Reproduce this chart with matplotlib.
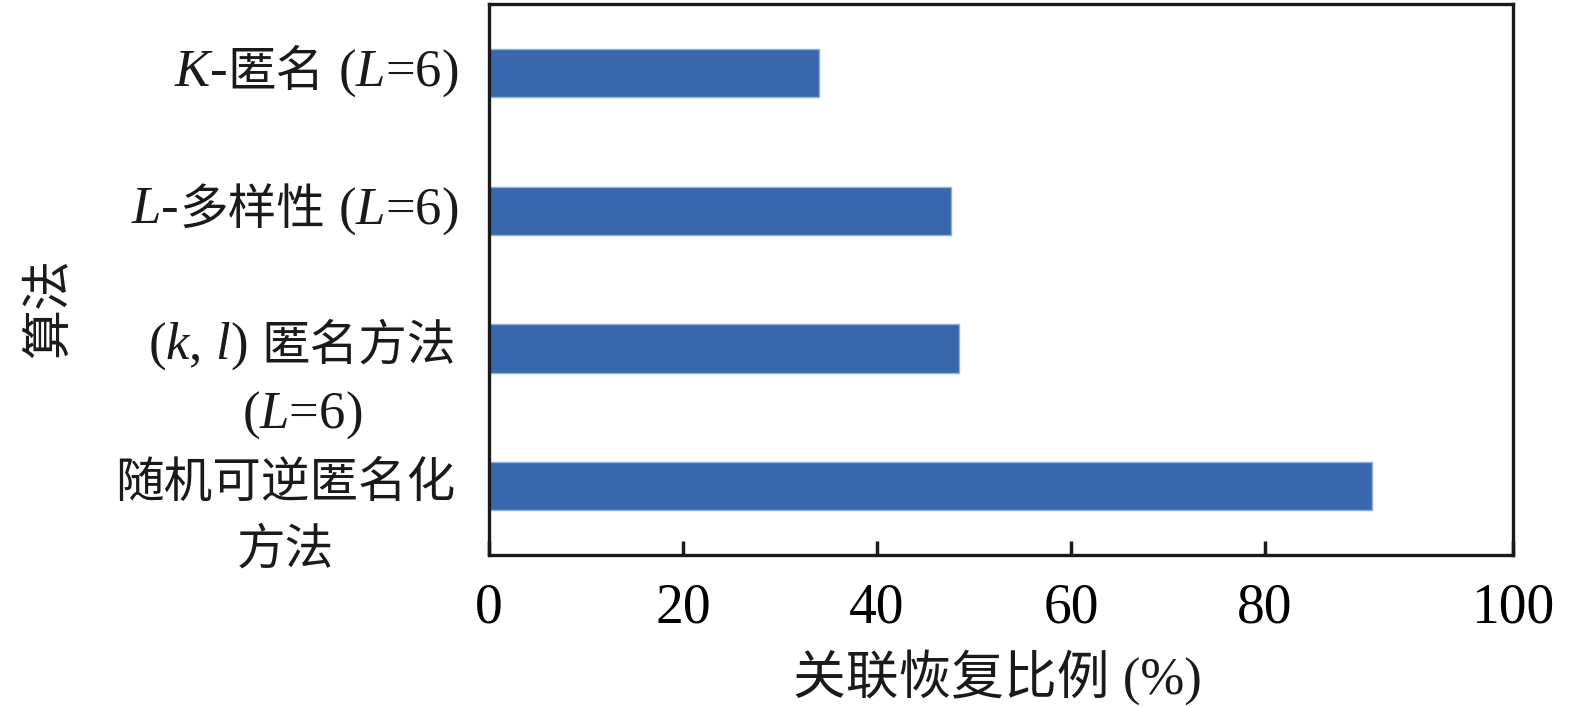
import matplotlib
matplotlib.use("Agg")
import matplotlib.pyplot as plt
from matplotlib.offsetbox import TextArea, HPacker, VPacker, AnnotationBbox, DrawingArea

plt.rcParams['font.family'] = ['Liberation Serif', 'Noto Sans CJK SC']
plt.rcParams['mathtext.fontset'] = 'custom'
plt.rcParams['mathtext.rm'] = 'Liberation Serif'
plt.rcParams['mathtext.it'] = 'Liberation Serif:italic'

# data (top to bottom)
methods = ["K-匿名 (L=6)", "L-多样性 (L=6)", "(k, l) 匿名方法 (L=6)", "随机可逆匿名化方法"]
ratios = [34.0, 47.6, 48.5, 91.0]
tick_values = [0, 20, 40, 60, 80]
tick_labels = ["0", "20", "40", "60", "80"]
axis_end = 105.6

# label pieces: (text, kind) kind = 'lat' (mathtext ok), 'cjk' or 'gap'
label_lines = [
    [[("$K$-", "lat"), ("匿名", "cjk"), (" ($L$=6)", "lat")]],
    [[("$L$-", "lat"), ("多样性", "cjk"), (" ($L$=6)", "lat")]],
    [[("($k$, $l$)", "lat"), ("", "gap"), ("匿名方法", "cjk")], [("($L$=6)", "lat")]],
    [[("随机可逆匿名化", "cjk")], [("方法", "cjk")]],
]

fs = 36
bar_color = "#3867AD"

fig = plt.figure(figsize=(15.75, 7.07), dpi=100)
ax = fig.add_axes([0.3105, 0.215, 0.6502, 0.779])

ypos = list(range(len(methods)))
ax.barh(ypos, ratios, height=0.35, color=bar_color, edgecolor="#8DB0DC", linewidth=1.0)
ax.set_ylim(-0.5, len(methods) - 0.5)
ax.invert_yaxis()
ax.set_xlim(0, axis_end)

ax.set_xticks(tick_values + [axis_end])
ax.set_xticklabels(tick_labels + ["100"], fontsize=40)
ax.tick_params(axis='x', direction='in', length=10, width=2.5, pad=20, color="#1a1a1a")
ax.set_yticks([])

for s in ax.spines.values():
    s.set_linewidth(2.4)
    s.set_color("#1a1a1a")


def make_line(pieces):
    boxes = []
    for txt, kind in pieces:
        if kind == "gap":
            boxes.append(DrawingArea(10, 1))
            continue
        if kind == "cjk":
            props = dict(family=['Noto Sans CJK SC'], size=fs - 1, color="#1a1a1a")
        else:
            props = dict(family=['Liberation Serif'], size=fs + 2, color="#1a1a1a")
        boxes.append(TextArea(txt, textprops=props))
    return HPacker(children=boxes, align="baseline", pad=0, sep=0)


for y, lines in zip(ypos, label_lines):
    rows = [make_line(p) for p in lines]
    if len(rows) == 1:
        box = rows[0]
        ab = AnnotationBbox(box, (0, y), xybox=(-22, 0),
                            xycoords=('axes fraction', 'data'), boxcoords='offset points',
                            box_alignment=(1, 0.5), frameon=False, pad=0)
    else:
        box = VPacker(children=rows, align="center", pad=0, sep=12)
        ab = AnnotationBbox(box, (0, y), xybox=(-24, 20),
                            xycoords=('axes fraction', 'data'), boxcoords='offset points',
                            box_alignment=(1, 1), frameon=False, pad=0)
    ax.add_artist(ab)

fig.text(0.031, 0.564, "算法", rotation=90, fontsize=36,
         family=['Noto Sans CJK SC'], ha='center', va='center', color="#1a1a1a")
fig.text(0.633, 0.043, "关联恢复比例 (%)", fontsize=38,
         ha='center', va='center', color="#1a1a1a")

fig.savefig("out.png", dpi=100)
